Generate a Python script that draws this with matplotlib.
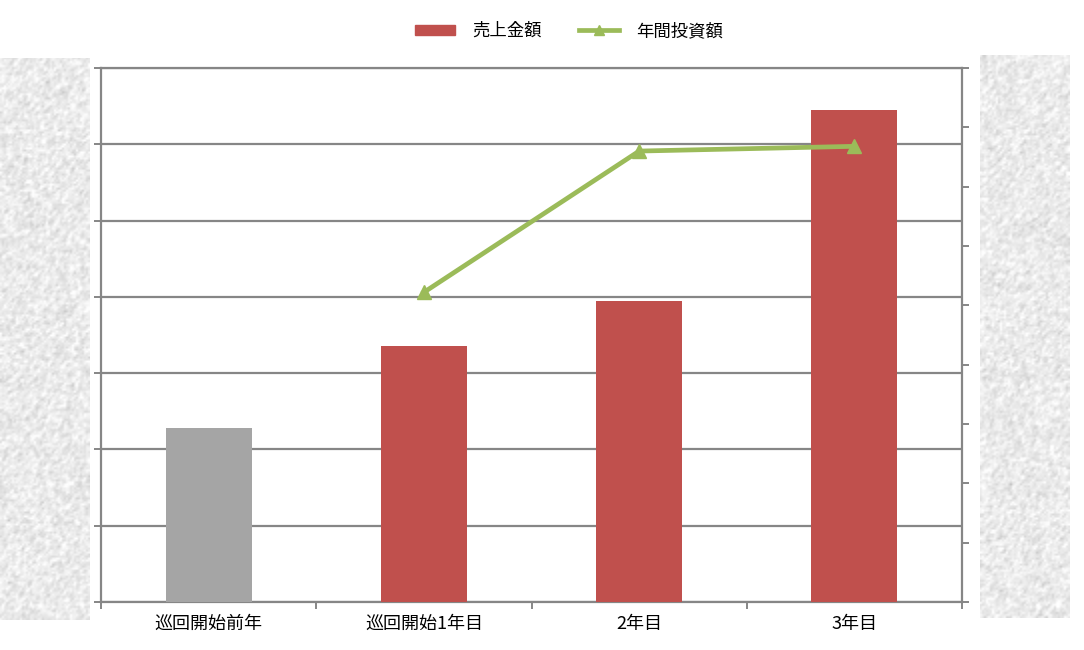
import matplotlib
matplotlib.use('Agg')
import matplotlib.pyplot as plt
from matplotlib.lines import Line2D
from matplotlib.patches import Patch
import numpy as np

plt.rcParams['font.family'] = ['Noto Sans CJK JP', 'DejaVu Sans']

# データ
categories = ["巡回開始前年", "巡回開始1年目", "2年目", "3年目"]
sales = [2.28, 3.36, 3.95, 6.45]          # 売上金額（左軸）
investment = [None, 5.22, 7.6, 7.68]      # 年間投資額（右軸）
bar_colors = ["#A5A5A5", "#C0504D", "#C0504D", "#C0504D"]

grid_c = "#868686"
line_c = "#9BBB59"

fig = plt.figure(figsize=(10.84, 6.5), dpi=100)

# 左右の背景テクスチャ（装飾のみ）
rng = np.random.default_rng(3)
for rect in ([0.0, 0.046, 0.083, 0.865], [0.904, 0.049, 0.083, 0.866]):
  tex_ax = fig.add_axes(rect)
  noise = rng.normal(0, 1, (280, 45))
  noise = (noise + np.roll(noise, 1, 0) + np.roll(noise, 1, 1)) / 3
  grey = np.clip(0.92 + 0.065 * noise, 0.70, 1.0)
  tex_ax.imshow(grey, cmap="gray", vmin=0, vmax=1, aspect="auto",
                interpolation="bilinear")
  tex_ax.axis("off")

ax = fig.add_axes([0.0932, 0.0738, 0.7943, 0.8216])
x = np.arange(len(categories))
ax.bar(x, sales, width=0.4, color=bar_colors, zorder=3)
ax.set_xlim(-0.5, len(categories) - 0.5)
ax.set_ylim(0, 7)
ax.set_yticks(np.arange(0, 8, 1))
ax.set_yticklabels([])
ax.yaxis.grid(True, color=grid_c, linewidth=1.6, zorder=0)
ax.set_xticks(x)
ax.set_xticklabels(categories, fontsize=13)
ax.set_xticks(np.arange(-0.5, len(categories), 1), minor=True)
ax.tick_params(axis="x", which="major", length=0, pad=9)
ax.tick_params(axis="x", which="minor", length=5, width=1.4, color=grid_c, direction="out")
ax.tick_params(axis="y", length=5, width=1.4, color=grid_c, direction="out")
for s in ax.spines.values():
  s.set_color(grid_c)
  s.set_linewidth(1.6)
ax.spines["right"].set_visible(False)

ax2 = ax.twinx()
ax2.set_ylim(0, 9)
ax2.set_yticks(np.arange(0, 10, 1))
ax2.set_yticklabels([])
ax2.tick_params(axis="y", length=5, width=1.4, color=grid_c, direction="out")
for s in ax2.spines.values():
  s.set_visible(False)
ax2.spines["right"].set_visible(True)
ax2.spines["right"].set_color(grid_c)
ax2.spines["right"].set_linewidth(1.6)
inv = np.array([np.nan if v is None else v for v in investment])
ax2.plot(x, inv, color=line_c, linewidth=3.4, marker="^", markersize=10, zorder=4)

# 凡例
handles = [Patch(color="#C0504D", label="売上金額"),
           Line2D([0], [0], color=line_c, linewidth=3.4, marker="^", markersize=7, label="年間投資額")]
fig.legend(handles=handles, loc="upper center", bbox_to_anchor=(0.525, 0.99), ncol=2,
           frameon=False, fontsize=12.5, handlelength=2.3, handleheight=0.55,
           columnspacing=2.1, handletextpad=1.0)

plt.savefig("out.png", dpi=100)
plt.close()
